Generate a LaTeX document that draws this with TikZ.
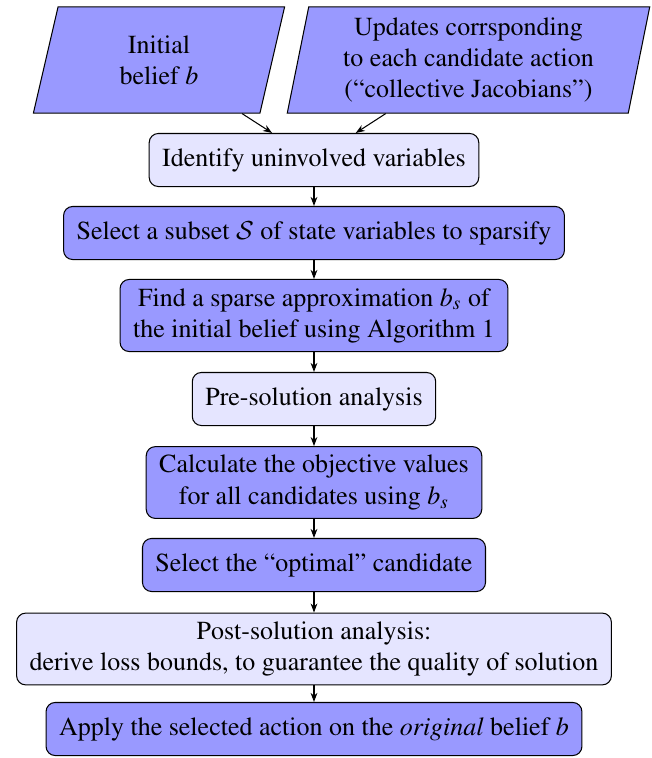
\documentclass[tikz,border=0pt]{standalone}
\usepackage[T1]{fontenc}
\usepackage{mathptmx}
\DeclareMathAlphabet{\mathcal}{OMS}{cmsy}{m}{n}
\usepackage{tikz}
\usetikzlibrary{shapes.geometric, arrows.meta}

\begin{document}
\begin{tikzpicture}[x=0.3846pt, y=-0.3846pt,
    darkbox/.style={draw, rounded corners=3.5pt, fill=blue!40, align=center,
        minimum height=20.4pt, inner xsep=5pt},
    lightbox/.style={darkbox, fill=blue!10},
    inputbox/.style={draw, trapezium, trapezium left angle=80, trapezium right angle=100,
        trapezium stretches=true, fill=blue!40, align=center, minimum height=40.8pt},
    flow/.style={-{Stealth[length=3.5pt, width=2.6pt]}}]

    \useasboundingbox (0,0) rectangle (652,758);

    % Inputs at the top
    \node[inputbox, minimum width=96.9pt] (init) at (159,60) {Initial\\belief $b$};
    \node[inputbox, minimum width=139.6pt] (updates) at (468.5,60)
        {Updates corrsponding\\to each candidate action\\(``collective Jacobians'')};

    % Main chain of steps
    \node[lightbox] (identify) at (314,160) {Identify uninvolved variables};
    \node[darkbox] (subset) at (314,233) {Select a subset $\mathcal{S}$ of state variables to sparsify};
    \node[darkbox] (sparse) at (314,315.5) {Find a sparse approximation $b_s$ of\\the initial belief using Algorithm 1};
    \node[lightbox] (presol) at (314,399) {Pre-solution analysis};
    \node[darkbox] (objval) at (314,482.5) {Calculate the objective values\\for all candidates using $b_s$};
    \node[darkbox] (optimal) at (314,565) {Select the ``optimal'' candidate};
    \node[lightbox] (postsol) at (314,649)
        {Post-solution analysis:\\derive loss bounds, to guarantee the quality of solution};
    \node[darkbox] (apply) at (314,729) {Apply the selected action on the \textit{original} belief $b$};

    % Arrows
    \draw[flow] (init) -- (identify);
    \draw[flow] (updates) -- (identify);
    \draw[flow] (identify) -- (subset);
    \draw[flow] (subset) -- (sparse);
    \draw[flow] (sparse) -- (presol);
    \draw[flow] (presol) -- (objval);
    \draw[flow] (objval) -- (optimal);
    \draw[flow] (optimal) -- (postsol);
    \draw[flow] (postsol) -- (apply);

\end{tikzpicture}
\end{document}
